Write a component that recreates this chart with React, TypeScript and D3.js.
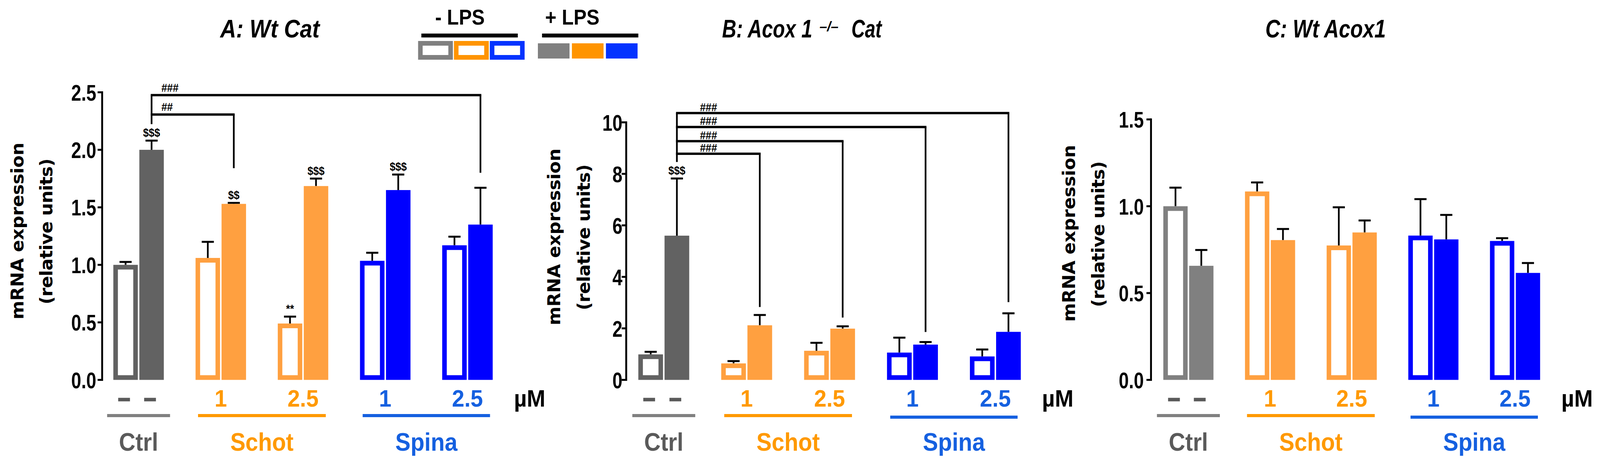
import React from "react";
import * as d3 from "d3";

const W = 4221;
const H = 1207;

// ---------- data ----------
const groupNames = ["Ctrl", "Schot 1", "Schot 2.5", "Spina 1", "Spina 2.5"];
const concLabels = ["–", "1", "2.5", "1", "2.5"];
const conditions = ["noLPS", "LPS"];
const treatments = ["Ctrl", "Schot", "Spina"];
const treatmentGroups = [[0], [1, 2], [3, 4]];
const legendLabels = ["- LPS", "+ LPS"];

// Panel A: Wt Cat
const aNoLPS = [1.0, 1.06, 0.49, 1.035, 1.17];
const aNoLPSErr = [0.025, 0.14, 0.06, 0.07, 0.075];
const aLPS = [2.0, 1.53, 1.685, 1.65, 1.35];
const aLPSErr = [0.08, 0.008, 0.065, 0.135, 0.32];
const aNoLPSSig = ["", "", "**", "", ""];
const aLPSSig = ["$$$", "$$", "$$$", "$$$", ""];
const aTicks = [0, 0.5, 1, 1.5, 2, 2.5];
const aBrackets = [
  { to: 1, level: 2.307, drop: 1.84, label: "##" },
  { to: 4, level: 2.475, drop: 1.8, label: "###" },
];

// Panel B: Acox1-/- Cat
const bNoLPS = [0.99, 0.64, 1.13, 1.06, 0.91];
const bNoLPSErr = [0.1, 0.09, 0.31, 0.58, 0.27];
const bLPS = [5.6, 2.12, 1.99, 1.37, 1.865];
const bLPSErr = [2.22, 0.4, 0.09, 0.1, 0.72];
const bNoLPSSig = ["", "", "", "", ""];
const bLPSSig = ["$$$", "", "", "", ""];
const bTicks = [0, 2, 4, 6, 8, 10];
const bBrackets = [
  { to: 1, level: 8.78, drop: 2.83, label: "###" },
  { to: 2, level: 9.27, drop: 2.42, label: "###" },
  { to: 3, level: 9.82, drop: 1.86, label: "###" },
  { to: 4, level: 10.36, drop: 3.02, label: "###" },
];

// Panel C: Wt Acox1
const cNoLPS = [1.0, 1.085, 0.774, 0.831, 0.8];
const cNoLPSErr = [0.107, 0.052, 0.22, 0.21, 0.016];
const cLPS = [0.657, 0.805, 0.849, 0.809, 0.616];
const cLPSErr = [0.091, 0.064, 0.069, 0.141, 0.057];
const cNoLPSSig = ["", "", "", "", ""];
const cLPSSig = ["", "", "", "", ""];
const cTicks = [0, 0.5, 1, 1.5];

// ---------- styles ----------
const ORANGE = "#FFA040";
const BLUE = "#0000FF";
const TXT_ORANGE = "#FF9900";
const TXT_BLUE = "#1560E0";
const TXT_GRAY = "#5A5A5A";
const LINE_GRAY = "#808080";
const LEG_COLORS = ["#808080", "#FF9400", "#0433FF"];
const FONT = "'Liberation Sans', Arial, Helvetica, sans-serif";
const YFONT = "'DejaVu Sans', Verdana, sans-serif";
const Y0 = 973.5;

type Bracket = { to: number; level: number; drop: number; label: string };
type Panel = {
  axisX: number;
  bars: [number, number];
  yMax: number;
  yTop: number;
  ticks: number[];
  fmt: (v: number) => string;
  tickGap: number;
  noLPS: number[];
  noLPSErr: number[];
  lps: number[];
  lpsErr: number[];
  noLPSSig: string[];
  lpsSig: string[];
  ctrlColor: string;
  brackets: Bracket[];
  bracketBase: number;
  bracketDx: number;
  bracketDy: number;
  ytitleX: [number, number];
  ytitleCy: [number, number];
  blueY: number;
};

const CT = (p: any) => {
  const { x, y, s = 1, anchor = "start", size, fill = "#000", weight = 700, italic = false, family = FONT, children, ...rest } = p;
  return (
    <text
      transform={`translate(${x},${y}) scale(${s},1)`}
      textAnchor={anchor}
      fontSize={size}
      fill={fill}
      fontWeight={weight}
      fontStyle={italic ? "italic" : "normal"}
      fontFamily={family}
      {...rest}
    >
      {children}
    </text>
  );
};

const PanelView = ({ p }: { p: Panel }) => {
  const y = d3.scaleLinear().domain([0, p.yMax]).range([Y0, p.yTop]);
  const xg = d3.scaleBand<string>().domain(groupNames).range(p.bars).paddingInner(0.386).paddingOuter(0);
  const xi = d3.scaleBand<string>().domain(conditions).range([0, xg.bandwidth()]).paddingInner(0.058);
  const bw = xi.bandwidth();
  const groupColors = [p.ctrlColor, ORANGE, ORANGE, BLUE, BLUE];
  const concColors = [TXT_GRAY, TXT_ORANGE, TXT_ORANGE, TXT_BLUE, TXT_BLUE];
  const treatColors = [TXT_GRAY, TXT_ORANGE, TXT_BLUE];
  const underColors = [LINE_GRAY, TXT_ORANGE, TXT_BLUE];
  const underHalf = [83, 168.5, 168];
  const gCenter = (i: number) => (xg(groupNames[i]) as number) + xg.bandwidth() / 2;
  const barCenter = (i: number, c: string) => (xg(groupNames[i]) as number) + (xi(c) as number) + bw / 2;

  const marks: any[] = [];
  groupNames.forEach((g, i) => {
    conditions.forEach((c) => {
      const open = c === "noLPS";
      const v = open ? p.noLPS[i] : p.lps[i];
      const e = open ? p.noLPSErr[i] : p.lpsErr[i];
      const sig = open ? p.noLPSSig[i] : p.lpsSig[i];
      const bx = (xg(g) as number) + (xi(c) as number);
      const cx = bx + bw / 2;
      const top = y(v);
      const et = y(v + e);
      const col = groupColors[i];
      marks.push(
        <g key={`${g}-${c}`}>
          <line x1={cx} x2={cx} y1={top} y2={et} stroke="#000" strokeWidth={4.5} />
          <line x1={cx - 16} x2={cx + 16} y1={et} y2={et} stroke="#000" strokeWidth={5} />
          {open ? (
            <rect x={bx + 6} y={top + 6} width={bw - 12} height={Y0 - top - 12} fill="#fff" stroke={col} strokeWidth={12} />
          ) : (
            <rect x={bx} y={top} width={bw} height={Y0 - top} fill={col} />
          )}
          {sig ? (
            <CT x={cx} y={et - 10} s={0.9} anchor="middle" size={30}>
              {sig}
            </CT>
          ) : null}
        </g>
      );
    });
  });

  // brackets
  const leftX = barCenter(0, "LPS");
  const bracketEls: any[] = [];
  if (p.brackets.length) {
    const maxLevel = d3.max(p.brackets, (b) => b.level) as number;
    bracketEls.push(
      <line key="bl" x1={leftX} x2={leftX} y1={y(maxLevel)} y2={y(p.bracketBase)} stroke="#000" strokeWidth={4.5} />
    );
    p.brackets.forEach((b, k) => {
      const rx = barCenter(b.to, "LPS");
      bracketEls.push(
        <g key={`br${k}`}>
          <line x1={leftX - 2.25} x2={rx + 2.25} y1={y(b.level)} y2={y(b.level)} stroke="#000" strokeWidth={6} />
          <line x1={rx} x2={rx} y1={y(b.level)} y2={y(b.drop)} stroke="#000" strokeWidth={4.5} />
          <CT x={leftX + p.bracketDx} y={y(b.level) - p.bracketDy} s={0.9} size={30}>
            {b.label}
          </CT>
        </g>
      );
    });
  }

  const lastRight = p.bars[1];

  return (
    <g>
      {/* y axis */}
      <line x1={p.axisX} x2={p.axisX} y1={Y0 + 2.5} y2={y(p.yMax) - 2.5} stroke="#000" strokeWidth={5} />
      {p.ticks.map((t) => (
        <g key={`t${t}`}>
          <line x1={p.axisX - 12} x2={p.axisX} y1={y(t)} y2={y(t)} stroke="#000" strokeWidth={5} />
          <CT x={p.axisX - p.tickGap} y={y(t) + 21} s={0.82} anchor="end" size={58}>
            {p.fmt(t)}
          </CT>
        </g>
      ))}
      {/* y title */}
      <text
        transform={`translate(${p.ytitleX[0]},${p.ytitleCy[0]}) rotate(-90)`}
        textAnchor="middle"
        fontSize={46}
        fontWeight={700}
        fontFamily={YFONT}
        textLength={453}
        lengthAdjust="spacing"
      >
        mRNA expression
      </text>
      <text
        transform={`translate(${p.ytitleX[1]},${p.ytitleCy[1]}) rotate(-90)`}
        textAnchor="middle"
        fontSize={46}
        fontWeight={700}
        fontFamily={YFONT}
        textLength={374}
        lengthAdjust="spacing"
      >
        (relative units)
      </text>
      {marks}
      {bracketEls}
      {/* concentration labels */}
      {concLabels.map((lab, i) =>
        i === 0 ? (
          conditions.map((c) => (
            <CT
              key={`d${c}`}
              x={barCenter(0, c) - 4}
              y={1040}
              s={0.95}
              anchor="middle"
              size={60}
              fill={TXT_GRAY}
              stroke={TXT_GRAY}
              strokeWidth={3}
            >
              {lab}
            </CT>
          ))
        ) : (
          <CT key={`c${i}`} x={gCenter(i)} y={1042} s={0.95} anchor="middle" size={62} fill={concColors[i]}>
            {lab}
          </CT>
        )
      )}
      <CT x={lastRight + 56} y={1042} s={0.95} size={62}>
        µM
      </CT>
      {/* treatment underline + labels */}
      {treatments.map((t, k) => {
        const cx = d3.mean(treatmentGroups[k], (i) => gCenter(i)) as number;
        const ly = k === 2 ? p.blueY : 1065;
        return (
          <g key={t}>
            <line x1={cx - underHalf[k]} x2={cx + underHalf[k]} y1={ly} y2={ly} stroke={underColors[k]} strokeWidth={8} />
            <CT x={cx} y={1155} s={0.94} anchor="middle" size={64} fill={treatColors[k]}>
              {t}
            </CT>
          </g>
        );
      })}
    </g>
  );
};

const panels: Panel[] = [
  {
    axisX: 269.5,
    bars: [299, 1299.8],
    yMax: 2.5,
    yTop: 236.5,
    ticks: aTicks,
    fmt: d3.format(".1f"),
    tickGap: 15.5,
    noLPS: aNoLPS,
    noLPSErr: aNoLPSErr,
    lps: aLPS,
    lpsErr: aLPSErr,
    noLPSSig: aNoLPSSig,
    lpsSig: aLPSSig,
    ctrlColor: "#626262",
    brackets: aBrackets,
    bracketBase: 2.223,
    bracketDx: 26,
    bracketDy: 9,
    ytitleX: [62, 138],
    ytitleCy: [592, 593],
    blueY: 1065,
  },
  {
    axisX: 1652,
    bars: [1684, 2693],
    yMax: 10,
    yTop: 313.5,
    ticks: bTicks,
    fmt: d3.format("d"),
    tickGap: 10,
    noLPS: bNoLPS,
    noLPSErr: bNoLPSErr,
    lps: bLPS,
    lpsErr: bLPSErr,
    noLPSSig: bNoLPSSig,
    lpsSig: bLPSSig,
    ctrlColor: "#626262",
    brackets: bBrackets,
    bracketBase: 8.46,
    bracketDx: 61,
    bracketDy: 5,
    ytitleX: [1478, 1556],
    ytitleCy: [607, 608],
    blueY: 1069,
  },
  {
    axisX: 3036.5,
    bars: [3069, 4063],
    yMax: 1.5,
    yTop: 306,
    ticks: cTicks,
    fmt: d3.format(".1f"),
    tickGap: 19,
    noLPS: cNoLPS,
    noLPSErr: cNoLPSErr,
    lps: cLPS,
    lpsErr: cLPSErr,
    noLPSSig: cNoLPSSig,
    lpsSig: cLPSSig,
    ctrlColor: "#808080",
    brackets: [],
    bracketBase: 0,
    bracketDx: 0,
    bracketDy: 0,
    ytitleX: [2836, 2913],
    ytitleCy: [598, 600],
    blueY: 1069,
  },
];

const Legend = () => {
  const openX = d3.scaleBand<number>().domain([0, 1, 2]).range([1103, 1384]).paddingInner(0.03);
  const fillX = d3.scaleBand<number>().domain([0, 1, 2]).range([1419, 1682]).paddingInner(0.07);
  return (
    <g>
      <CT x={1148} y={63} s={0.93} size={55}>
        {legendLabels[0]}
      </CT>
      <CT x={1438} y={63} s={0.93} size={55}>
        {legendLabels[1]}
      </CT>
      <rect x={1111.6} y={86} width={254.4} height={10} fill="#000" />
      <rect x={1430} y={86} width={254} height={10} fill="#000" />
      {LEG_COLORS.map((c, i) => (
        <rect key={`o${i}`} x={(openX(i) as number) + 6} y={111} width={openX.bandwidth() - 12} height={36} fill="#fff" stroke={c} strokeWidth={12} />
      ))}
      {LEG_COLORS.map((c, i) => (
        <rect key={`f${i}`} x={fillX(i) as number} y={111} width={fillX.bandwidth()} height={39} fill={c} />
      ))}
    </g>
  );
};

const Titles = () => (
  <g fontFamily={FONT} fontWeight={700} fontStyle="italic">
    <text x={581} y={96} fontSize={64} textLength={262} lengthAdjust="spacingAndGlyphs">
      A: Wt Cat
    </text>
    <text x={1905} y={96} fontSize={64} textLength={238} lengthAdjust="spacingAndGlyphs">
      B: Acox 1
    </text>
    <text x={2162} y={80} fontSize={36} textLength={50} lengthAdjust="spacingAndGlyphs">
      –/–
    </text>
    <text x={2246} y={96} fontSize={64} textLength={80} lengthAdjust="spacingAndGlyphs">
      Cat
    </text>
    <text x={3338} y={96} fontSize={64} textLength={318} lengthAdjust="spacingAndGlyphs">
      C: Wt Acox1
    </text>
  </g>
);

export default function App() {
  return (
    <svg
      viewBox={`0 0 ${W} ${H}`}
      preserveAspectRatio="none"
      style={{ position: "fixed", left: 0, top: 0, width: "100vw", height: "100vh", background: "#fff", display: "block" }}
    >
      <rect x={0} y={0} width={W} height={H} fill="#fff" />
      <Titles />
      <Legend />
      {panels.map((p, i) => (
        <PanelView key={i} p={p} />
      ))}
    </svg>
  );
}
